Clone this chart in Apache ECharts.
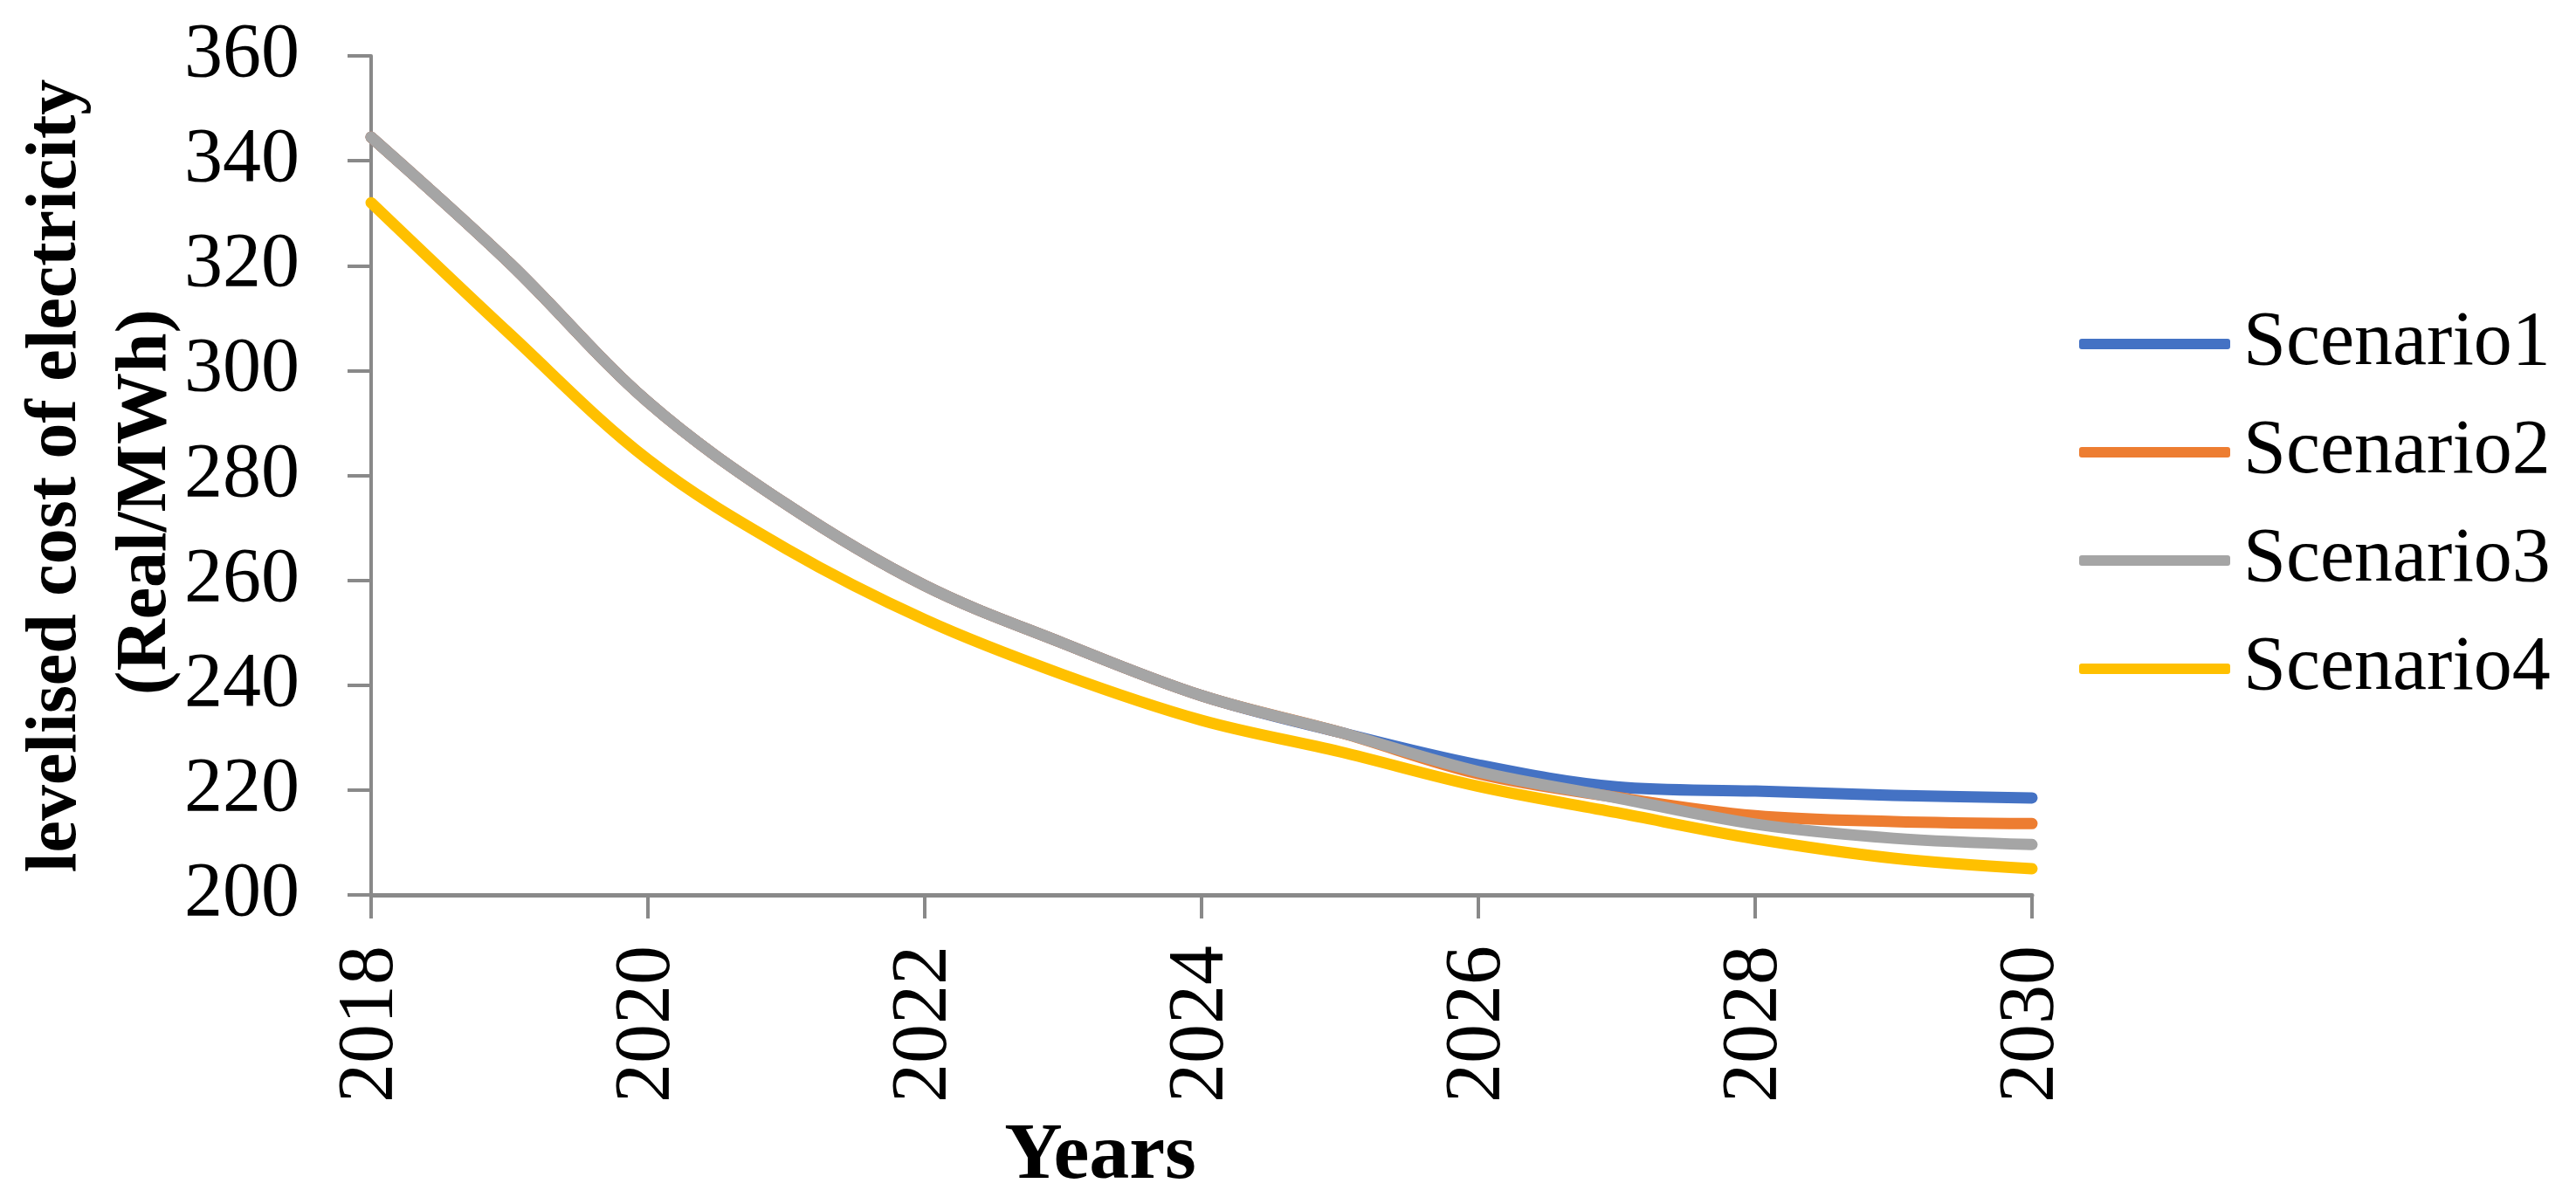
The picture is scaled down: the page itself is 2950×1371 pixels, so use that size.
<!DOCTYPE html>
<html>
<head>
<meta charset="utf-8">
<script src="https://cdn.jsdelivr.net/npm/echarts@6/dist/echarts.min.js"></script>
<style>
html,body{margin:0;padding:0;background:#fff;}
#chart{width:2950px;height:1371px;}
</style>
</head>
<body>
<div id="chart"></div>
<script>
var years = [2018, 2019, 2020, 2021, 2022, 2023, 2024, 2025, 2026, 2027, 2028, 2029, 2030];
var scenario1 = [344.5, 320.5, 294.0, 274.5, 259.0, 248.0, 238.0, 231.0, 224.8, 220.6, 219.8, 219.0, 218.5];
var scenario2 = [344.5, 320.5, 294.0, 274.5, 259.0, 248.0, 238.0, 231.0, 223.1, 218.6, 215.1, 214.0, 213.6];
var scenario3 = [344.5, 320.5, 294.0, 274.5, 259.0, 248.0, 238.0, 231.0, 223.5, 218.5, 213.5, 210.8, 209.6];
var scenario4 = [332.0, 307.0, 283.0, 266.0, 252.5, 242.0, 233.3, 227.3, 220.7, 215.7, 210.7, 207.0, 205.0];
var seriesNames = ['Scenario1', 'Scenario2', 'Scenario3', 'Scenario4'];
var seriesColors = ['#4472C4', '#ED7D31', '#A5A5A5', '#FFC000'];
var yTitle1 = 'levelised cost of electricity';
var yTitle2 = '(Real/MWh)';
var xTitle = 'Years';

var FONT = '"Liberation Serif", "Times New Roman", serif';
var allData = [scenario1, scenario2, scenario3, scenario4];

function pairs(vals) {
  return years.map(function (y, i) { return [y, vals[i]]; });
}

var chart = echarts.init(document.getElementById('chart'), null, {renderer: 'canvas'});
chart.setOption({
  backgroundColor: '#ffffff',
  animation: false,
  grid: {left: 425, top: 64, right: 623, bottom: 346, containLabel: false},
  legend: {
    orient: 'vertical',
    left: 2376,
    top: 339,
    itemWidth: 173,
    itemHeight: 12,
    itemGap: 24,
    icon: 'roundRect',
    data: seriesNames,
    textStyle: {fontFamily: FONT, fontSize: 88, color: '#000', lineHeight: 100, padding: [0, 0, 0, 10]}
  },
  xAxis: {
    type: 'value',
    min: 2018, max: 2030, interval: 2,
    axisLine: {show: true, lineStyle: {color: '#898989', width: 5}},
    axisTick: {show: true, length: 27, lineStyle: {color: '#898989', width: 4}},
    splitLine: {show: false},
    axisLabel: {rotate: 90, margin: 58, fontFamily: FONT, fontSize: 90, color: '#000', formatter: function (v) { return String(v); }}
  },
  yAxis: {
    type: 'value',
    min: 200, max: 360, interval: 20,
    axisLine: {show: true, lineStyle: {color: '#898989', width: 4}},
    axisTick: {show: true, length: 27, lineStyle: {color: '#898989', width: 4}},
    splitLine: {show: false},
    axisLabel: {margin: 82, fontFamily: FONT, fontSize: 88, color: '#000'}
  },
  graphic: [
    {type: 'text', x: 65, y: 545, rotation: Math.PI / 2,
     style: {text: yTitle1, fontFamily: FONT, fontWeight: 'bold', fontSize: 82, fill: '#000', align: 'center', verticalAlign: 'middle'}},
    {type: 'text', x: 168, y: 575, rotation: Math.PI / 2,
     style: {text: yTitle2, fontFamily: FONT, fontWeight: 'bold', fontSize: 82, fill: '#000', align: 'center', verticalAlign: 'middle'}},
    {type: 'text', x: 1260, y: 1325,
     style: {text: xTitle, fontFamily: FONT, fontWeight: 'bold', fontSize: 92, fill: '#000', align: 'center', verticalAlign: 'middle'}}
  ],
  series: seriesNames.map(function (n, i) {
    return {
      name: n,
      type: 'line',
      data: pairs(allData[i]),
      smooth: 0.35,
      showSymbol: false,
      symbol: 'none',
      color: seriesColors[i],
      lineStyle: {color: seriesColors[i], width: 13, cap: 'round', join: 'round'},
      itemStyle: {color: seriesColors[i]}
    };
  })
});
</script>
</body>
</html>
